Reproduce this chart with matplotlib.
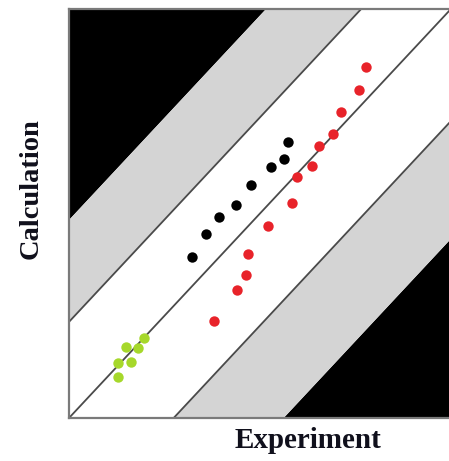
import numpy as np
import matplotlib
matplotlib.use("Agg")
import matplotlib.pyplot as plt

# Measured vs. computed values (arbitrary units)
red_exp = [77.8, 76.0, 71.3, 69.2, 65.5, 63.7, 59.7, 58.4, 52.1, 46.9, 46.4, 44.0, 38.0]
red_calc = [85.8, 80.2, 74.8, 69.4, 66.5, 61.6, 58.9, 52.6, 46.9, 40.1, 35.0, 31.3, 23.7]

black_exp = [57.4, 56.3, 52.9, 47.7, 43.7, 39.3, 35.9, 32.2]
black_calc = [67.5, 63.3, 61.4, 57.0, 52.1, 49.1, 45.0, 39.4]

green_exp = [19.6, 18.1, 14.9, 16.2, 12.8, 12.8]
green_calc = [19.6, 17.1, 17.4, 13.7, 13.4, 10.0]

# Band offsets from the parity line
inner_upper = 23.5
outer_upper = 48.4
inner_lower = -27.4
outer_lower = -56.2

XMAX, YMAX = 99.5, 100.0

fig = plt.figure(figsize=(4.49, 4.61), dpi=100)
ax = fig.add_axes([69 / 449, 43 / 461, 380 / 449, 409 / 461])
ax.set_xlim(0, XMAX)
ax.set_ylim(0, YMAX)

x = np.linspace(-10, 110, 400)
big = 500
# black outer regions
ax.fill_between(x, x + outer_upper, big, color="black", lw=0, zorder=1)
ax.fill_between(x, -big, x + outer_lower, color="black", lw=0, zorder=1)
# gray bands
ax.fill_between(x, x + inner_upper, x + outer_upper, color="#d4d4d4", lw=0, zorder=1)
ax.fill_between(x, x + outer_lower, x + inner_lower, color="#d4d4d4", lw=0, zorder=1)

for off in (0, inner_upper, inner_lower):
    ax.plot(x, x + off, color="#4a4a4a", lw=1.3, zorder=2)

ms = 56
ax.scatter(red_exp, red_calc, s=ms, color="#e8232a", lw=0, zorder=3)
ax.scatter(black_exp, black_calc, s=ms, color="black", lw=0, zorder=3)
ax.scatter(green_exp, green_calc, s=ms, color="#a6d82b", lw=0, zorder=3)

ax.set_xticks([])
ax.set_yticks([])
for side in ("left", "bottom", "top"):
    ax.spines[side].set_color("#7a7a7a")
    ax.spines[side].set_linewidth(1.6)
    ax.spines[side].set_zorder(4)
ax.spines["right"].set_visible(False)

font = dict(family="Liberation Serif", weight="bold", color="#10101c")
fig.text(308 / 449, 1 - 440 / 461, "Experiment", ha="center", va="center",
         size=21, **font)
fig.text(31 / 449, 1 - 189 / 461, "Calculation", ha="center", va="center",
         rotation=90, size=20.5, **font)

fig.savefig("out.png", dpi=100)
